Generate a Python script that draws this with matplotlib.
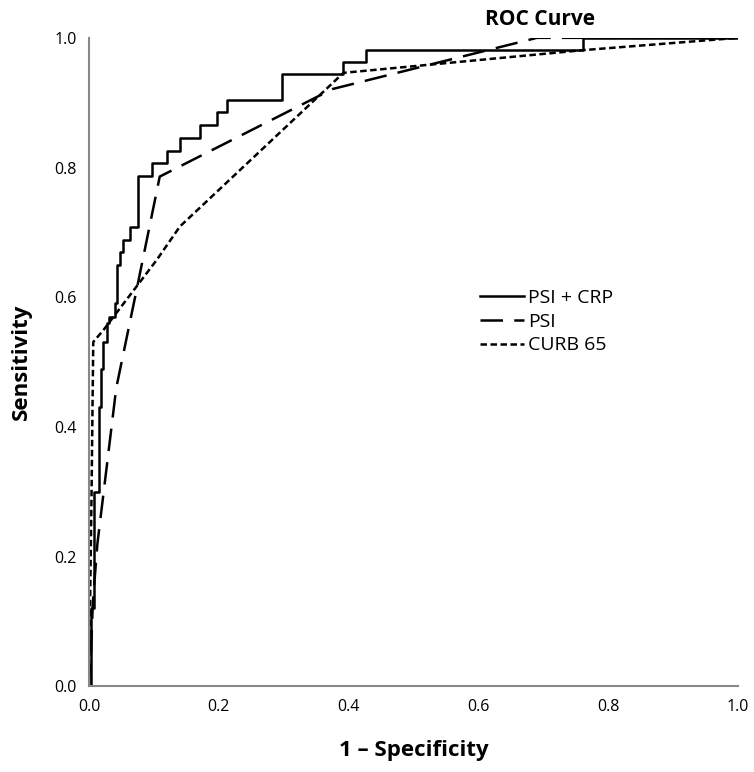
import matplotlib
matplotlib.use("Agg")
import matplotlib.pyplot as plt

# PSI + CRP (step ROC)
psi_crp_fpr = [0, 0.003, 0.003, 0.008, 0.008, 0.016, 0.016, 0.019, 0.019, 0.022, 0.022,
               0.027, 0.027, 0.031, 0.031, 0.040, 0.040, 0.043, 0.043, 0.048, 0.048,
               0.053, 0.053, 0.063, 0.063, 0.076, 0.076, 0.097, 0.097, 0.120, 0.120,
               0.140, 0.140, 0.171, 0.171, 0.197, 0.197, 0.212, 0.212, 0.297, 0.297,
               0.392, 0.392, 0.426, 0.426, 0.761, 0.761, 1.0]
psi_crp_tpr = [0, 0, 0.12, 0.12, 0.30, 0.30, 0.43, 0.43, 0.49, 0.49, 0.531,
               0.531, 0.560, 0.560, 0.570, 0.570, 0.591, 0.591, 0.650, 0.650, 0.670,
               0.670, 0.688, 0.688, 0.709, 0.709, 0.787, 0.787, 0.807, 0.807, 0.826,
               0.826, 0.845, 0.845, 0.866, 0.866, 0.885, 0.885, 0.904, 0.904, 0.944,
               0.944, 0.963, 0.963, 0.982, 0.982, 1.0, 1.0]

# PSI
psi_fpr = [0, 0.003, 0.006, 0.013, 0.042, 0.071, 0.109, 0.375, 0.69, 1.0]
psi_tpr = [0, 0.05, 0.13, 0.22, 0.46, 0.60, 0.786, 0.921, 1.0, 1.0]

# CURB 65
curb_fpr = [0, 0.004, 0.0066, 0.022, 0.104, 0.140, 0.392, 0.761, 1.0]
curb_tpr = [0, 0.30, 0.531, 0.549, 0.657, 0.709, 0.946, 0.981, 1.0]

series_labels = ["PSI + CRP", "PSI", "CURB 65"]
ticks = [0.0, 0.2, 0.4, 0.6, 0.8, 1.0]
tick_labels = ["0.0", "0.2", "0.4", "0.6", "0.8", "1.0"]

plt.rcParams['font.family'] = ['Open Sans', 'DejaVu Sans']

fig = plt.figure(figsize=(7.54, 7.72), dpi=100)
ax = fig.add_axes([0.118, 0.111, 0.861, 0.840])

ax.plot(psi_crp_fpr, psi_crp_tpr, color="black", lw=1.8, label=series_labels[0])
ax.plot(psi_fpr, psi_tpr, color="black", lw=1.8, dashes=(9, 4.5), label=series_labels[1])
ax.plot(curb_fpr, curb_tpr, color="black", lw=1.8, dashes=(2.6, 1.4), label=series_labels[2])

ax.set_xlim(0, 1)
ax.set_ylim(0, 1)
ax.set_xticks(ticks)
ax.set_xticklabels(tick_labels)
ax.set_yticks(ticks)
ax.set_yticklabels(tick_labels)
ax.tick_params(length=0, labelsize=11.5, pad=9)
for lab in ax.get_xticklabels() + ax.get_yticklabels():
    lab.set_fontweight("medium")

for s in ["top", "right"]:
    ax.spines[s].set_visible(False)
for s in ["left", "bottom"]:
    ax.spines[s].set_color("#888888")
    ax.spines[s].set_linewidth(1.5)

ax.set_xlabel("1 – Specificity", fontsize=16, fontweight="bold", labelpad=18)
ax.set_ylabel("Sensitivity", fontsize=16, fontweight="bold", labelpad=16)
fig.text(0.716, 0.975, "ROC Curve", fontsize=15, fontweight="bold", ha="center", va="center")

leg = ax.legend(loc="upper left", bbox_to_anchor=(0.575, 0.64), frameon=False,
                fontsize=14, handlelength=2.3, handletextpad=0.2, labelspacing=0.3)

fig.savefig("out.png", dpi=100)
